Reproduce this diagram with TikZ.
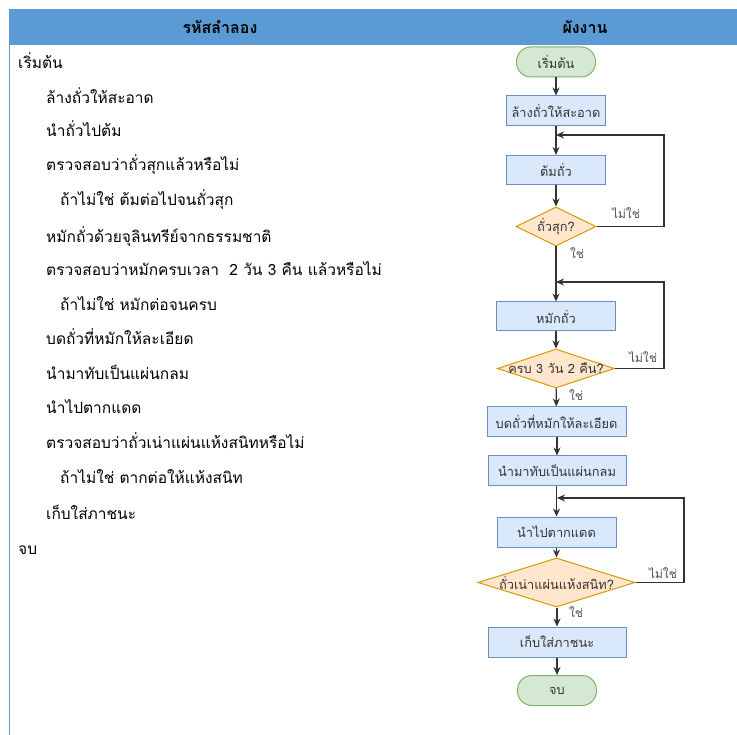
\documentclass[tikz,border=0pt]{standalone}
\usepackage{fontspec}
\setmainfont[Script=Thai]{Loma}
\newfontfamily\thaifont[Script=Thai]{Loma}
\usetikzlibrary{arrows.meta,shapes.geometric}
\definecolor{hdrblue}{HTML}{5B9BD5}
\definecolor{boxfill}{HTML}{DAE8FC}
\definecolor{boxdraw}{HTML}{6C8EBF}
\definecolor{decfill}{HTML}{FFE6CC}
\definecolor{decdraw}{HTML}{D79B00}
\definecolor{termfill}{HTML}{D5E8D4}
\definecolor{termdraw}{HTML}{82B366}
\definecolor{ink}{HTML}{333333}
\tikzset{
  codeline/.style={anchor=base west, inner sep=0pt, font=\thaifont\fontsize{15.5}{18}\selectfont, text=black},
  hdrtext/.style={inner sep=0pt, font=\thaifont\bfseries\fontsize{16}{19}\selectfont, text=black},
  procbox/.style={draw=boxdraw, fill=boxfill, line width=1pt, inner sep=0pt, font=\thaifont\fontsize{12.8}{15}\selectfont, text=ink},
  decbox/.style={diamond, draw=decdraw, fill=decfill, line width=1pt, inner sep=0pt},
  dectext/.style={inner sep=0pt, font=\thaifont\fontsize{12.8}{15}\selectfont, text=ink},
  termbox/.style={rounded corners=14.5pt, draw=termdraw, fill=termfill, line width=1pt, inner sep=0pt, minimum width=79pt, minimum height=30pt, font=\thaifont\fontsize{12.8}{15}\selectfont, text=ink},
  arr/.style={draw=ink, line width=1.3pt, -{Stealth[length=8pt,width=7pt]}},
  lbl/.style={inner sep=0pt, font=\thaifont\fontsize{12}{14}\selectfont, text=ink!85}
}
\begin{document}
\begin{tikzpicture}[x=1pt,y=-1pt]
\useasboundingbox (0,0) rectangle (737,735);
\fill[white] (0,0) rectangle (737,735);
% header
\fill[hdrblue] (9,9) rectangle (737,45);
\draw[hdrblue, line width=1.5pt] (9.5,45) -- (9.5,735);
\node[hdrtext] (h1) at (220,27) {รหัสลำลอง};
\node[hdrtext] (h2) at (585,27) {ผังงาน};
% pseudocode
\node[codeline] (c1) at (18,69) {เริ่มต้น};
\node[codeline] (c2) at (46,104) {ล้างถั่วให้สะอาด};
\node[codeline] (c3) at (46,137) {นำถั่วไปต้ม};
\node[codeline] (c4) at (46,171) {ตรวจสอบว่าถั่วสุกแล้วหรือไม่};
\node[codeline] (c5) at (60,206) {ถ้าไม่ใช่ ต้มต่อไปจนถั่วสุก};
\node[codeline] (c6) at (46,243) {หมักถั่วด้วยจุลินทรีย์จากธรรมชาติ};
\node[codeline] (c7) at (46,276) {ตรวจสอบว่าหมักครบเวลา\ \ 2 วัน 3 คืน แล้วหรือไม่};
\node[codeline] (c8) at (60,311) {ถ้าไม่ใช่ หมักต่อจนครบ};
\node[codeline] (c9) at (46,345) {บดถั่วที่หมักให้ละเอียด};
\node[codeline] (c10) at (46,380) {นำมาทับเป็นแผ่นกลม};
\node[codeline] (c11) at (46,414) {นำไปตากแดด};
\node[codeline] (c12) at (46,449) {ตรวจสอบว่าถั่วเน่าแผ่นแห้งสนิทหรือไม่};
\node[codeline] (c13) at (60,484) {ถ้าไม่ใช่ ตากต่อให้แห้งสนิท};
\node[codeline] (c14) at (46,519) {เก็บใส่ภาชนะ};
\node[codeline] (c15) at (18,554) {จบ};
% flowchart
\node[termbox] (st) at (556,62) {เริ่มต้น};
\node[procbox, minimum width=99pt, minimum height=30pt] (b1) at (556,111) {ล้างถั่วให้สะอาด};
\node[procbox, minimum width=99pt, minimum height=29pt] (b2) at (556,170) {ต้มถั่ว};
\node[decbox, minimum width=80pt, minimum height=39pt] (d1) at (556,226.5) {};
\node[dectext] (t1) at (d1) {ถั่วสุก?};
\node[procbox, minimum width=119pt, minimum height=29pt] (b3) at (556,316.5) {หมักถั่ว};
\node[decbox, minimum width=117pt, minimum height=39pt] (d2) at (556,368.5) {};
\node[dectext] (t2) at (d2) {ครบ 3 วัน 2 คืน?};
\node[procbox, minimum width=139pt, minimum height=30pt] (b4) at (556.5,422) {บดถั่วที่หมักให้ละเอียด};
\node[procbox, minimum width=138pt, minimum height=30pt] (b5) at (557,471) {นำมาทับเป็นแผ่นกลม};
\node[procbox, minimum width=119pt, minimum height=30pt] (b6) at (556.5,532) {นำไปตากแดด};
\node[decbox, minimum width=157pt, minimum height=49pt] (d3) at (556.5,582.5) {};
\node[dectext] (t3) at (d3) {ถั่วเน่าแผ่นแห้งสนิท?};
\node[procbox, minimum width=138pt, minimum height=30pt] (b7) at (557,642) {เก็บใส่ภาชนะ};
\node[termbox] (en) at (557,690.5) {จบ};
% junctions
\coordinate (j1) at (556,135);
\coordinate (r1) at (664,135);
\coordinate (j2) at (556,282);
\coordinate (r2) at (664,282);
\coordinate (j3) at (557,498);
\coordinate (r3) at (684,498);
% connectors
\draw[arr] (st) -- (b1);
\draw[arr] (b1) -- (b2);
\draw[arr] (b2) -- (d1);
\draw[arr] (d1.east) -| (r1) -- (j1);
\draw[arr] (d1) -- (b3);
\draw[arr] (b3) -- (d2);
\draw[arr] (d2.east) -| (r2) -- (j2);
\draw[arr] (d2) -- (b4);
\draw[arr] (b4.south -| b5.north) -- (b5.north);
\draw[arr] (b5.south -| b6.north) -- (b6.north);
\draw[arr] (d3.east) -| (r3) -- (j3);
\draw[arr] (b6.south -| d3.north) -- (d3.north);
\draw[arr] (d3.south -| b7.north) -- (b7.north);
\draw[arr] (b7) -- (en);
% labels
\node[lbl] (n1) at (626,213) {ไม่ใช่};
\node[lbl] (y1) at (577,253) {ใช่};
\node[lbl] (n2) at (643,357) {ไม่ใช่};
\node[lbl] (y2) at (576,395) {ใช่};
\node[lbl] (n3) at (663,573) {ไม่ใช่};
\node[lbl] (y3) at (576,612) {ใช่};
\end{tikzpicture}
\end{document}
